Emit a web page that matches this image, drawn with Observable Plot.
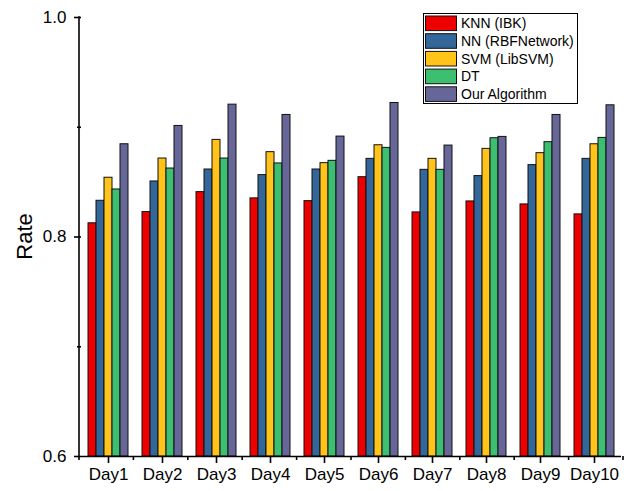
<!DOCTYPE html>
<html>
<head>
<meta charset="utf-8">
<script src="https://cdn.jsdelivr.net/npm/d3@7"></script>
<script src="https://cdn.jsdelivr.net/npm/@observablehq/plot@0.6"></script>
<style>
  html, body { margin: 0; padding: 0; background: #fff; }
  #chart { width: 636px; height: 491px; }
</style>
</head>
<body>
<div id="chart"></div>
<script>
const days = ["Day1", "Day2", "Day3", "Day4", "Day5", "Day6", "Day7", "Day8", "Day9", "Day10"];
const algorithms = ["KNN (IBK)", "NN (RBFNetwork)", "SVM (LibSVM)", "DT", "Our Algorithm"];
const colors = ["#EE0000", "#336699", "#FFC31A", "#3CBF70", "#666699"];

const knn  = [0.8125, 0.8227, 0.8409, 0.8352, 0.8327, 0.8545, 0.8224, 0.8324, 0.8297, 0.8206];
const nn   = [0.8330, 0.8506, 0.8615, 0.8564, 0.8615, 0.8712, 0.8612, 0.8555, 0.8655, 0.8712];
const svm  = [0.8540, 0.8715, 0.8885, 0.8773, 0.8673, 0.8836, 0.8712, 0.8803, 0.8764, 0.8845];
const dt   = [0.8433, 0.8624, 0.8715, 0.8670, 0.8694, 0.8812, 0.8612, 0.8900, 0.8864, 0.8903];
const ours = [0.8845, 0.9012, 0.9206, 0.9112, 0.8915, 0.9221, 0.8833, 0.8912, 0.9112, 0.9200];

const yTicks = [0.6, 0.8, 1.0];
const yMinorTicks = [0.7, 0.9];
const yLabel = "Rate";

const series = [knn, nn, svm, dt, ours];
const table = [];
days.forEach((d, i) => algorithms.forEach((a, j) => table.push({day: d, algo: a, value: series[j][i]})));

const font = "'Liberation Sans', Arial, Helvetica, sans-serif";

const chart = Plot.plot({
  width: 636,
  height: 491,
  marginLeft: 79,
  marginRight: 13,
  marginTop: 17,
  marginBottom: 35,
  style: {fontFamily: font, fontSize: "17px", color: "#000", background: "#fff"},
  fx: {domain: days, padding: 0, label: null},
  x: {domain: algorithms, paddingInner: 0, paddingOuter: 0.625, axis: null},
  y: {domain: [0.6, 1.0]},
  color: {domain: algorithms, range: colors},
  marks: [
    Plot.barY(table, {fx: "day", x: "algo", y1: 0.6, y2: "value", fill: "algo", stroke: "#111", strokeWidth: 1}),
    Plot.ruleY([0.6], {stroke: "#000", strokeWidth: 1.6}),
    Plot.axisY({ticks: yTicks, tickSize: 7, tickPadding: 8, tickFormat: d3.format(".1f"), label: null, fontSize: 17, strokeWidth: 1.6}),
    Plot.axisY({ticks: yMinorTicks, tickSize: 4, text: null, label: null, strokeWidth: 1.6}),
    Plot.axisFx({anchor: "bottom", tickSize: 7, tickPadding: 4, label: null, fontSize: 17, strokeWidth: 1.6})
  ]
});

const svg = d3.select(chart);
const fxs = chart.scale("fx");
const ys = chart.scale("y");
const cs = chart.scale("color");

const fx = d3.scaleBand().domain(fxs.domain).range(fxs.range)
  .paddingInner(fxs.paddingInner ?? fxs.padding ?? 0)
  .paddingOuter(fxs.paddingOuter ?? fxs.padding ?? 0)
  .align(fxs.align ?? 0.5);
const y = d3.scaleLinear().domain(ys.domain).range(ys.range);
const color = d3.scaleOrdinal().domain(cs.domain).range(cs.range);

const left = fx(days[0]);
const right = fx(days[days.length - 1]) + fx.bandwidth();
const yTop = y(1.0), yBot = y(0.6);

const g = svg.append("g").attr("stroke", "#000").attr("stroke-width", 1.6).attr("fill", "none");
// y axis line
g.append("line").attr("x1", left).attr("x2", left).attr("y1", yTop - 0.8).attr("y2", yBot + 0.8);
// minor x ticks at day boundaries
days.map(d => fx(d)).concat([right]).forEach(b =>
  g.append("line").attr("x1", b).attr("x2", b).attr("y1", yBot).attr("y2", yBot + 4));

// y label
svg.append("text")
  .attr("transform", `translate(32,${(yTop + yBot) / 2}) rotate(-90)`)
  .attr("text-anchor", "middle")
  .attr("font-family", font)
  .attr("font-size", 22)
  .attr("fill", "#000")
  .text(yLabel);

// legend
const lg = svg.append("g").attr("font-family", font).attr("font-size", 14).attr("text-anchor", "start");
lg.append("rect").attr("x", 423.5).attr("y", 13.5).attr("width", 154).attr("height", 90)
  .attr("fill", "#fff").attr("stroke", "#000").attr("stroke-width", 1);
algorithms.forEach((a, i) => {
  const cy = 23.3 + i * 17.7;
  lg.append("rect").attr("x", 425.5).attr("y", cy - 7.3).attr("width", 31).attr("height", 14.6)
    .attr("fill", color(a)).attr("stroke", "#111").attr("stroke-width", 1);
  lg.append("text").attr("x", 461).attr("y", cy + 5).attr("fill", "#000").attr("text-anchor", "start").text(a);
});

document.getElementById("chart").appendChild(chart);
</script>
</body>
</html>
